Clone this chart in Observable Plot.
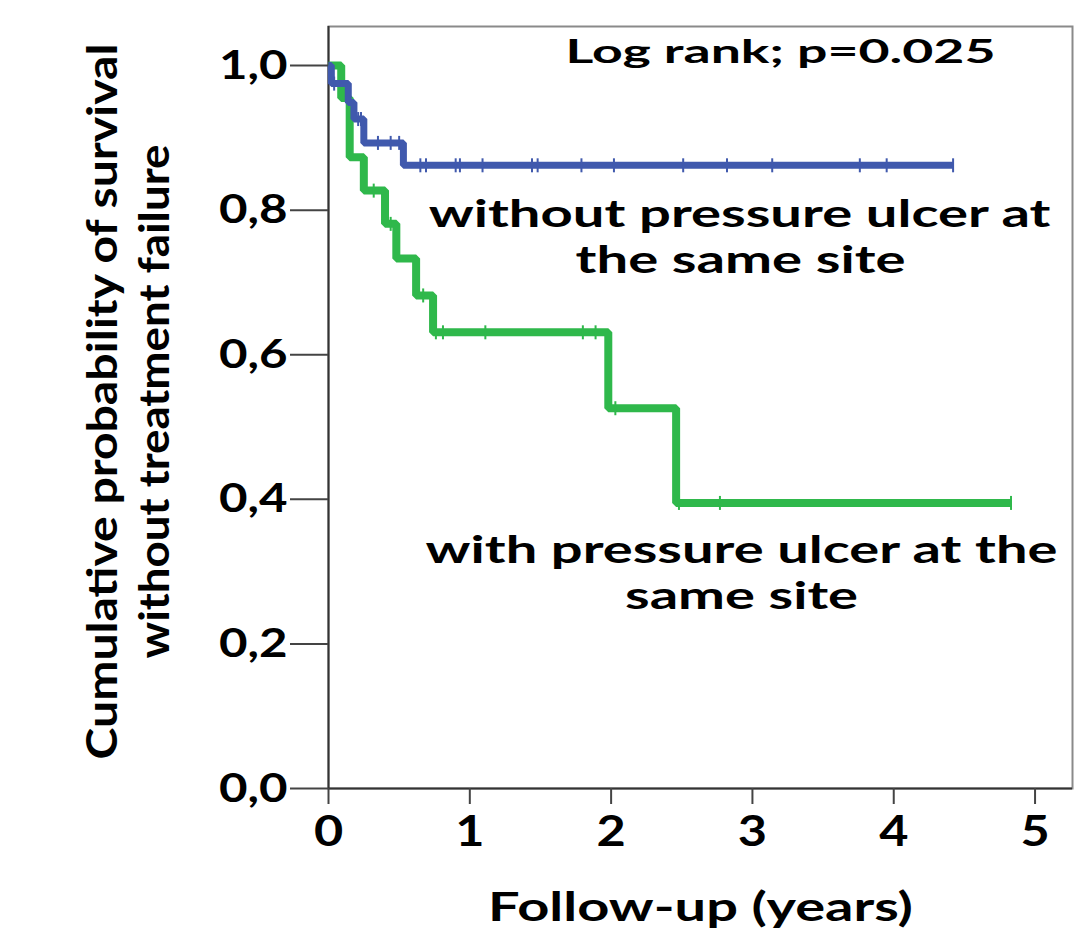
<!DOCTYPE html>
<html>
<head>
<meta charset="utf-8">
<script src="https://cdn.jsdelivr.net/npm/d3@7"></script>
<script src="https://cdn.jsdelivr.net/npm/@observablehq/plot@0.6"></script>
<style>
  html, body { margin: 0; padding: 0; background: #fff; }
  #chart svg { display: block; }
</style>
</head>
<body>
<div id="chart"></div>
<script>
// ---- data ----
const blueTimes = [0, 0.02, 0.14, 0.18, 0.25, 0.53, 4.42];
const blueSurv  = [1.0, 0.975, 0.949, 0.926, 0.893, 0.862, 0.862];
const blueCensor = [0.04, 0.21, 0.23, 0.35, 0.44, 0.50, 0.65, 0.69, 0.90, 0.93, 1.09, 1.44, 1.48, 1.79, 2.02, 2.51, 2.82, 3.14, 3.76, 3.95, 4.42];

const greenTimes = [0, 0.09, 0.15, 0.25, 0.40, 0.48, 0.62, 0.74, 1.98, 2.46, 4.83];
const greenSurv  = [1.0, 0.955, 0.873, 0.827, 0.781, 0.733, 0.682, 0.631, 0.526, 0.395, 0.395];
const greenCensor = [0.32, 0.44, 0.67, 0.76, 0.81, 1.11, 1.80, 1.89, 2.03, 2.48, 2.77, 4.83];

const yTicks = [0, 0.2, 0.4, 0.6, 0.8, 1.0];
const xTicks = [0, 1, 2, 3, 4, 5];

const titleText = "Log rank; p=0.025";
const blueLabel = ["without pressure ulcer at", "the same site"];
const greenLabel = ["with pressure ulcer at the", "same site"];
const xTitle = "Follow-up (years)";
const yTitle = ["Cumulative probability of survival", "without treatment failure"];

// ---- build tables ----
const toCurve = (ts, ss) => ts.map((t, i) => ({t, s: ss[i]}));
const stepAt = (ts, ss, t) => { let v = ss[0]; ts.forEach((tt, i) => { if (tt <= t) v = ss[i]; }); return v; };
const blueCurve = toCurve(blueTimes, blueSurv);
const greenCurve = toCurve(greenTimes, greenSurv);
const blueMarks = blueCensor.map(t => ({t, s: stepAt(blueTimes, blueSurv, t)}));
const greenMarks = greenCensor.map(t => ({t, s: stepAt(greenTimes, greenSurv, t)}));

const BLUE = "#4059ad", GREEN = "#2fb84b";
const vbar = { draw(ctx, size) { const h = Math.sqrt(size / Math.PI); ctx.moveTo(0, -h); ctx.lineTo(0, h); } };
const fmt = d => d.toFixed(1).replace(".", ",");

const plot = Plot.plot({
  width: 1090,
  height: 932,
  marginLeft: 328,
  marginRight: 18,
  marginTop: 26,
  marginBottom: 144,
  style: { fontFamily: "Lato, 'Open Sans', sans-serif", fontWeight: 700, fontSize: "41px", color: "#000", background: "#fff" },
  x: { domain: [0, 5.265] },
  y: { domain: [0, 1.054] },
  marks: [
    Plot.frame({ stroke: "#8a8a8a", strokeWidth: 2 }),
    Plot.ruleX([0], { stroke: "#333", strokeWidth: 2 }),
    Plot.ruleY([0], { stroke: "#333", strokeWidth: 2 }),
    Plot.axisY({ ticks: yTicks, tickSize: 38, tickPadding: 3, tickFormat: fmt, label: null, stroke: "#444", strokeWidth: 2, fontSize: 41 }),
    Plot.axisX({ ticks: xTicks, tickSize: 16, tickPadding: 12, tickFormat: d => String(d), label: null, stroke: "#444", strokeWidth: 2, fontSize: 42 }),
    Plot.line(greenCurve, { x: "t", y: "s", curve: "step-after", stroke: GREEN, strokeWidth: 8, strokeLinejoin: "miter", strokeLinecap: "butt" }),
    Plot.dot(greenMarks, { x: "t", y: "s", symbol: vbar, r: 7, stroke: GREEN, strokeWidth: 2 }),
    Plot.line(blueCurve, { x: "t", y: "s", curve: "step-after", stroke: BLUE, strokeWidth: 7, strokeLinejoin: "miter", strokeLinecap: "butt" }),
    Plot.dot(blueMarks, { x: "t", y: "s", symbol: vbar, r: 7, stroke: BLUE, strokeWidth: 2 }),
    Plot.text([titleText], { frameAnchor: "top", textAnchor: "middle", dx: 80, dy: 36, lineAnchor: "bottom", fontSize: 33, fill: "#000" }),
    Plot.text([blueLabel[0]], { frameAnchor: "top", textAnchor: "middle", dx: 39, dy: 200, lineAnchor: "bottom", fontSize: 38, fill: "#000" }),
    Plot.text([blueLabel[1]], { frameAnchor: "top", textAnchor: "middle", dx: 40, dy: 246, lineAnchor: "bottom", fontSize: 38, fill: "#000" }),
    Plot.text([greenLabel[0]], { frameAnchor: "top", textAnchor: "middle", dx: 41, dy: 536, lineAnchor: "bottom", fontSize: 38, fill: "#000" }),
    Plot.text([greenLabel[1]], { frameAnchor: "top", textAnchor: "middle", dx: 41, dy: 582, lineAnchor: "bottom", fontSize: 38, fill: "#000" }),
    Plot.text([xTitle], { frameAnchor: "bottom", textAnchor: "middle", dx: 0, dy: 132, lineAnchor: "bottom", fontSize: 41, fill: "#000" }),
    Plot.text([yTitle[0]], { frameAnchor: "left", textAnchor: "middle", dx: -212, dy: -6, rotate: -90, lineAnchor: "bottom", fontSize: 42, fill: "#000" }),
    Plot.text([yTitle[1]], { frameAnchor: "left", textAnchor: "middle", dx: -160, dy: -6, rotate: -90, lineAnchor: "bottom", fontSize: 42, fill: "#000" })
  ]
});

document.getElementById("chart").appendChild(plot);

// horizontal stretch of the wide reference lettering (scale about the text anchor)
function stretch(el, s) {
  if (!isFinite(s) || s <= 0) return;
  const x = +(el.getAttribute("x") || 0);
  const tr = el.getAttribute("transform") || "";
  el.setAttribute("transform", `${tr} translate(${x},0) scale(${s.toFixed(4)},1) translate(${-x},0)`);
}
const targets = new Map([
  [titleText, 430], [blueLabel[0], 622], [blueLabel[1], 330], [greenLabel[0], 632], [greenLabel[1], 233],
  [xTitle, 425], [yTitle[0], 716], [yTitle[1], 514]
]);
plot.querySelectorAll("text").forEach(el => {
  const key = el.textContent;
  if (targets.has(key)) {
    const L = el.getComputedTextLength();
    stretch(el, L ? targets.get(key) / L : 1.2);
  }
});
plot.querySelectorAll(`g[aria-label="y-axis tick label"] text, g[aria-label="x-axis tick label"] text`).forEach(el => stretch(el, 1.2));
</script>
</body>
</html>
